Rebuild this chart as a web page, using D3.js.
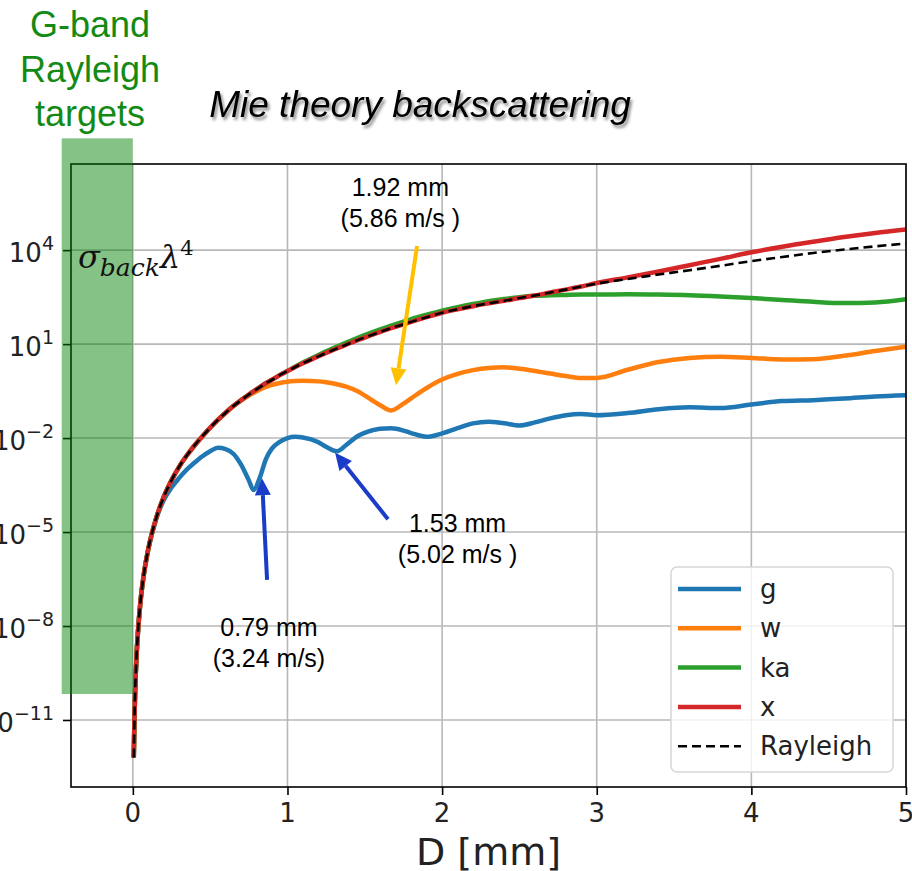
<!DOCTYPE html>
<html>
<head>
<meta charset="utf-8">
<script src="https://cdn.jsdelivr.net/npm/d3@7"></script>
<style>
  body { margin: 0; background: #fff; }
  svg { display: block; }
</style>
</head>
<body>
<svg id="chart" width="912" height="871"></svg>
<script>
// Particle diameter D [mm] shared by every curve
const diameters = [0.006, 0.01, 0.015, 0.025, 0.035, 0.05, 0.07, 0.1, 0.15, 0.2,
  0.25, 0.3, 0.35, 0.4, 0.45, 0.5, 0.55, 0.6, 0.65, 0.7,
  0.75, 0.78, 0.82, 0.86, 0.9, 0.95, 1.0, 1.05, 1.1, 1.2,
  1.25, 1.32, 1.38, 1.45, 1.55, 1.6, 1.67, 1.75, 1.8, 1.9,
  2.0, 2.1, 2.2, 2.3, 2.4, 2.5, 2.6, 2.7, 2.8, 2.9,
  3.0, 3.2, 3.4, 3.6, 3.8, 4.0, 4.2, 4.4, 4.6, 4.8, 5.0];

// log10 of sigma_back * lambda^4 for each band
const gLog10 = [-12.2, -11.04, -10.07, -8.85, -8.05, -7.19, -6.39, -5.54, -4.6, -3.98,
  -3.58, -3.27, -3.0, -2.78, -2.58, -2.42, -2.31, -2.35, -2.5, -2.85,
  -3.35, -3.66, -3.28, -2.68, -2.33, -2.12, -2.0, -1.96, -1.98, -2.13,
  -2.28, -2.42, -2.22, -1.95, -1.75, -1.7, -1.69, -1.76, -1.84, -1.96,
  -1.85, -1.68, -1.53, -1.48, -1.53, -1.6, -1.5, -1.37, -1.27, -1.23,
  -1.27, -1.2, -1.08, -1.02, -1.04, -0.93, -0.82, -0.79, -0.74, -0.67, -0.63];

const wLog10 = [-12.2, -11.04, -10.07, -8.85, -8.05, -7.19, -6.39, -5.54, -4.57, -3.88,
  -3.35, -2.91, -2.55, -2.23, -1.94, -1.67, -1.42, -1.19, -0.98, -0.8,
  -0.64, -0.56, -0.46, -0.37, -0.3, -0.24, -0.2, -0.18, -0.17, -0.19,
  -0.22, -0.28, -0.36, -0.5, -0.8, -0.95, -1.12, -0.9, -0.73, -0.4,
  -0.13, 0.05, 0.17, 0.24, 0.26, 0.21, 0.14, 0.06, -0.02, -0.08,
  -0.08, 0.18, 0.43, 0.56, 0.6, 0.56, 0.51, 0.52, 0.63, 0.78, 0.92];

const kaLog10 = [-12.2, -11.04, -10.07, -8.85, -8.05, -7.19, -6.39, -5.54, -4.57, -3.88,
  -3.35, -2.91, -2.55, -2.23, -1.94, -1.67, -1.42, -1.19, -0.98, -0.79,
  -0.61, -0.51, -0.38, -0.25, -0.14, 0.01, 0.14, 0.28, 0.41, 0.65,
  0.77, 0.92, 1.05, 1.19, 1.38, 1.47, 1.59, 1.72, 1.8, 1.94,
  2.07, 2.18, 2.28, 2.37, 2.44, 2.5, 2.54, 2.56, 2.57, 2.58,
  2.58, 2.59, 2.58, 2.56, 2.52, 2.47, 2.41, 2.35, 2.31, 2.33, 2.43];

const xLog10 = [-12.2, -11.04, -10.07, -8.85, -8.05, -7.19, -6.39, -5.54, -4.57, -3.88,
  -3.35, -2.91, -2.55, -2.23, -1.94, -1.67, -1.42, -1.19, -0.98, -0.79,
  -0.61, -0.51, -0.38, -0.25, -0.14, 0.01, 0.14, 0.27, 0.39, 0.61,
  0.72, 0.86, 0.98, 1.12, 1.3, 1.39, 1.51, 1.63, 1.71, 1.86,
  2.0, 2.11, 2.21, 2.3, 2.38, 2.47, 2.55, 2.65, 2.74, 2.84,
  2.95, 3.13, 3.32, 3.52, 3.72, 3.93, 4.11, 4.27, 4.42, 4.55, 4.66];

const rayleighLog10 = [-12.2, -11.04, -10.07, -8.85, -8.05, -7.19, -6.39, -5.54, -4.57, -3.88,
  -3.35, -2.91, -2.55, -2.23, -1.94, -1.67, -1.42, -1.19, -0.98, -0.79,
  -0.61, -0.51, -0.38, -0.25, -0.14, 0.01, 0.14, 0.27, 0.39, 0.61,
  0.72, 0.86, 0.98, 1.12, 1.3, 1.39, 1.51, 1.63, 1.71, 1.86,
  2.0, 2.11, 2.21, 2.3, 2.38, 2.47, 2.55, 2.65, 2.74, 2.84,
  2.93, 3.08, 3.22, 3.36, 3.5, 3.65, 3.78, 3.91, 4.02, 4.12, 4.21];

const seriesNames = ["g", "w", "ka", "x", "Rayleigh"];
const xTickValues = [0, 1, 2, 3, 4, 5];
const yTickExponents = [4, 1, -2, -5, -8, -11];

// Resonance-dip callouts: text lines, label anchor (D, log10) and arrow tail/tip (D, log10)
const dipLabelLines = [["0.79 mm", "(3.24 m/s)"], ["1.53 mm", "(5.02 m/s )"], ["1.92 mm", "(5.86 m/s )"]];
const dipLabelAnchor = [[0.88, -8.32], [2.1, -5.0], [1.73, 5.72]];
const dipArrowTail = [[0.868, -6.53], [1.65, -4.59], [1.838, 4.13]];
const dipArrowTip = [[0.835, -3.28], [1.308, -2.47], [1.702, -0.31]];

// G-band Rayleigh span: D range and log10 extent
const gBandSpanD = [-0.46, 0];
const gBandSpanLog10 = [7.57, -10.17];

// ---- styling ----
const colors = { g: "#1f77b4", w: "#ff7f0e", ka: "#2ca02c", x: "#d62728", Rayleigh: "#000" };
const arrowColors = ["#1a3cc8", "#1a3cc8", "#ffc000"];
const plot = { left: 71, right: 906, top: 164, bottom: 787 };

const svg = d3.select("#chart");
const x = d3.scaleLinear().domain([-0.4, 5]).range([plot.left, plot.right]);
const y = d3.scaleLog().domain([Math.pow(10, -13.14), Math.pow(10, 6.75)]).range([plot.bottom, plot.top]);

const defs = svg.append("defs");
defs.append("clipPath").attr("id", "plotClip").append("rect")
  .attr("x", plot.left).attr("y", plot.top)
  .attr("width", plot.right - plot.left).attr("height", plot.bottom - plot.top);
const shadow = defs.append("filter").attr("id", "titleShadow")
  .attr("x", "-10%").attr("y", "-30%").attr("width", "120%").attr("height", "160%");
shadow.append("feDropShadow").attr("dx", 2).attr("dy", 3).attr("stdDeviation", 1.6)
  .attr("flood-color", "#000").attr("flood-opacity", 0.45);

const yTickValues = yTickExponents.map(e => Math.pow(10, e));

// grid
svg.append("g").attr("class", "grid")
  .selectAll("line").data(xTickValues).join("line")
  .attr("x1", d => x(d)).attr("x2", d => x(d))
  .attr("y1", plot.top).attr("y2", plot.bottom)
  .attr("stroke", "#b8b8b8").attr("stroke-width", 1.6);
svg.append("g").attr("class", "grid")
  .selectAll("line").data(yTickValues).join("line")
  .attr("x1", plot.left).attr("x2", plot.right)
  .attr("y1", d => y(d)).attr("y2", d => y(d))
  .attr("stroke", "#b8b8b8").attr("stroke-width", 1.6);

// curves
const seriesLog10 = { g: gLog10, w: wLog10, ka: kaLog10, x: xLog10, Rayleigh: rayleighLog10 };
const line = d3.line()
  .x(d => x(d[0]))
  .y(d => y(Math.pow(10, d[1])))
  .curve(d3.curveMonotoneX);
const curves = svg.append("g").attr("clip-path", "url(#plotClip)");
seriesNames.forEach(name => {
  const pts = diameters.map((d, i) => [d, seriesLog10[name][i]]);
  const dashed = name === "Rayleigh";
  curves.append("path")
    .attr("d", line(pts))
    .attr("fill", "none")
    .attr("stroke", colors[name])
    .attr("stroke-width", dashed ? 2.6 : 4.5)
    .attr("stroke-dasharray", dashed ? "9,5" : null)
    .attr("stroke-linejoin", "round");
});

// axes
const xAxis = d3.axisBottom(x).tickValues(xTickValues).tickSize(8).tickFormat("");
const yAxis = d3.axisLeft(y).tickValues(yTickValues).tickSize(8).tickFormat("");
const gx = svg.append("g").attr("transform", `translate(0,${plot.bottom})`).call(xAxis);
const gy = svg.append("g").attr("transform", `translate(${plot.left},0)`).call(yAxis);
[gx, gy].forEach(g => {
  g.select(".domain").remove();
  g.selectAll(".tick line").attr("stroke", "#000").attr("stroke-width", 1.6);
});
svg.append("rect")
  .attr("x", plot.left).attr("y", plot.top)
  .attr("width", plot.right - plot.left).attr("height", plot.bottom - plot.top)
  .attr("fill", "none").attr("stroke", "#000").attr("stroke-width", 1.6);

// tick labels
svg.append("g").selectAll("text").data(xTickValues).join("text")
  .attr("x", d => x(d)).attr("y", plot.bottom + 35)
  .attr("text-anchor", "middle")
  .attr("font-family", "DejaVu Sans").attr("font-size", 26).attr("fill", "#222")
  .text(d => d);
const yLabels = svg.append("g").selectAll("text").data(yTickExponents).join("text")
  .attr("x", plot.left - 17).attr("y", d => y(Math.pow(10, d)) + 12)
  .attr("text-anchor", "end")
  .attr("font-family", "DejaVu Sans").attr("fill", "#222");
yLabels.append("tspan").attr("font-size", 26).text("10");
yLabels.append("tspan").attr("font-size", 19).attr("dy", -12)
  .text(d => (d < 0 ? "\u2212" + Math.abs(d) : String(d)));

// axis title
svg.append("text")
  .attr("x", (plot.left + plot.right) / 2).attr("y", 865)
  .attr("text-anchor", "middle")
  .attr("font-family", "DejaVu Sans").attr("font-size", 38).attr("fill", "#222")
  .text("D [mm]");

// G-band Rayleigh-target span, laid over the axes
svg.append("rect")
  .attr("x", x(gBandSpanD[0])).attr("width", x(gBandSpanD[1]) - x(gBandSpanD[0]))
  .attr("y", y(Math.pow(10, gBandSpanLog10[0])))
  .attr("height", y(Math.pow(10, gBandSpanLog10[1])) - y(Math.pow(10, gBandSpanLog10[0])))
  .attr("fill", "#008000").attr("fill-opacity", 0.48);

// sigma_back lambda^4 label
const sig = svg.append("text").attr("x", 78).attr("y", 268)
  .attr("font-family", "DejaVu Serif").attr("fill", "#111");
sig.append("tspan").attr("font-style", "italic").attr("font-size", 32).text("\u03c3");
sig.append("tspan").attr("font-style", "italic").attr("font-size", 25).attr("dy", 8).text("back");
sig.append("tspan").attr("font-style", "italic").attr("font-size", 32).attr("dy", -8).text("\u03bb");
sig.append("tspan").attr("font-size", 21).attr("dy", -13).text("4");

// G-band heading
const gband = svg.append("text").attr("text-anchor", "middle")
  .attr("font-family", "Liberation Sans, Arial, sans-serif").attr("font-size", 36).attr("fill", "#138a13");
["G-band", "Rayleigh", "targets"].forEach((t, i) => {
  gband.append("tspan").attr("x", 90).attr("y", 37 + i * 44.5).text(t);
});

// title
svg.append("text")
  .attr("x", 420).attr("y", 117).attr("text-anchor", "middle")
  .attr("font-family", "Liberation Sans, Arial, sans-serif").attr("font-size", 37)
  .attr("font-style", "italic").attr("fill", "#000")
  .attr("filter", "url(#titleShadow)")
  .text("Mie theory backscattering");

// dip callouts
dipLabelLines.forEach((lines, i) => {
  const t = svg.append("text").attr("text-anchor", "middle")
    .attr("font-family", "Liberation Sans, Arial, sans-serif").attr("font-size", 25).attr("fill", "#000");
  const ax = x(dipLabelAnchor[i][0]);
  const ay = y(Math.pow(10, dipLabelAnchor[i][1]));
  lines.forEach((s, j) => t.append("tspan").attr("x", ax).attr("y", ay + j * 31).text(s));

  const x0 = x(dipArrowTail[i][0]), y0 = y(Math.pow(10, dipArrowTail[i][1]));
  const x1 = x(dipArrowTip[i][0]), y1 = y(Math.pow(10, dipArrowTip[i][1]));
  const ang = Math.atan2(y1 - y0, x1 - x0);
  const headLen = 17, headHalf = 8;
  const bx = x1 - headLen * Math.cos(ang), by = y1 - headLen * Math.sin(ang);
  svg.append("line")
    .attr("x1", x0).attr("y1", y0).attr("x2", bx).attr("y2", by)
    .attr("stroke", arrowColors[i]).attr("stroke-width", 4);
  const px = -Math.sin(ang) * headHalf, py = Math.cos(ang) * headHalf;
  svg.append("path")
    .attr("d", `M${x1},${y1}L${bx + px},${by + py}L${bx - px},${by - py}Z`)
    .attr("fill", arrowColors[i]);
});

// legend
const legend = svg.append("g");
legend.append("rect")
  .attr("x", 671).attr("y", 567).attr("width", 222).attr("height", 205)
  .attr("rx", 6).attr("fill", "#fff").attr("fill-opacity", 0.8)
  .attr("stroke", "#d6d6d6").attr("stroke-width", 1.5);
seriesNames.forEach((name, i) => {
  const ly = 589 + i * 39.3;
  const dashed = name === "Rayleigh";
  legend.append("line")
    .attr("x1", 678).attr("x2", 741).attr("y1", ly).attr("y2", ly)
    .attr("stroke", colors[name])
    .attr("stroke-width", dashed ? 2.6 : 4.5)
    .attr("stroke-dasharray", dashed ? "9,5" : null);
  legend.append("text")
    .attr("x", 760).attr("y", ly + 9)
    .attr("font-family", "DejaVu Sans").attr("font-size", 26).attr("fill", "#222")
    .text(name);
});
</script>
</body>
</html>
